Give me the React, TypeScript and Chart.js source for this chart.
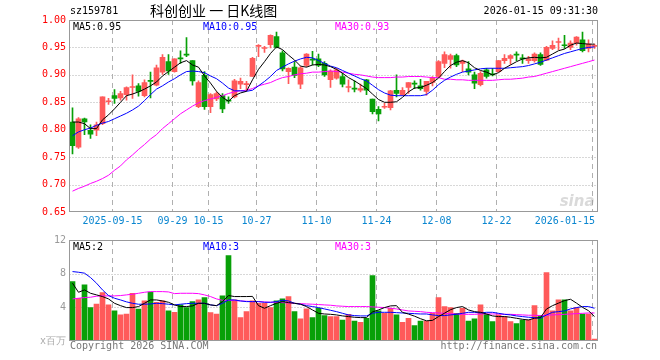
import React, { useEffect, useRef } from "react";
import { Chart, registerables } from "chart.js";
Chart.register(...registerables);

// ---------- DATA ----------
const dates: string[] = [
  "2025-09-04","2025-09-05","2025-09-08","2025-09-09","2025-09-10","2025-09-11","2025-09-12",
  "2025-09-15","2025-09-16","2025-09-17","2025-09-18","2025-09-19",
  "2025-09-22","2025-09-23","2025-09-24","2025-09-25","2025-09-26",
  "2025-09-29","2025-09-30",
  "2025-10-09","2025-10-10","2025-10-13","2025-10-14",
  "2025-10-15","2025-10-16","2025-10-17",
  "2025-10-20","2025-10-21","2025-10-22","2025-10-23","2025-10-24",
  "2025-10-27","2025-10-28","2025-10-29","2025-10-30","2025-10-31",
  "2025-11-03","2025-11-04","2025-11-05","2025-11-06","2025-11-07",
  "2025-11-10","2025-11-11","2025-11-12","2025-11-13","2025-11-14",
  "2025-11-17","2025-11-18","2025-11-19","2025-11-20","2025-11-21",
  "2025-11-24","2025-11-25","2025-11-26","2025-11-27","2025-11-28",
  "2025-12-01","2025-12-02","2025-12-03","2025-12-04","2025-12-05",
  "2025-12-08","2025-12-09","2025-12-10","2025-12-11","2025-12-12",
  "2025-12-15","2025-12-16","2025-12-17","2025-12-18","2025-12-19",
  "2025-12-22","2025-12-23","2025-12-24","2025-12-25","2025-12-26",
  "2025-12-29","2025-12-30","2025-12-31",
  "2026-01-05","2026-01-06","2026-01-07","2026-01-08","2026-01-09",
  "2026-01-12","2026-01-13","2026-01-14","2026-01-15",
];

const openP: number[] = [
  0.814,0.768,0.820,0.799,0.799,0.811,0.851,0.862,0.858,0.864,
  0.877,0.880,0.862,0.890,0.881,0.905,0.924,0.906,0.931,0.938,
  0.926,0.842,0.899,0.842,0.856,0.862,0.853,0.860,0.883,0.882,
  0.897,0.952,0.948,0.955,0.970,0.940,0.906,0.914,0.883,0.917,
  0.928,0.929,0.921,0.891,0.894,0.897,0.877,0.875,0.872,0.891,
  0.856,0.837,0.841,0.840,0.872,0.864,0.877,0.884,0.880,0.870,
  0.886,0.897,0.921,0.928,0.935,0.921,0.911,0.900,0.882,0.909,
  0.901,0.906,0.926,0.930,0.937,0.930,0.926,0.926,0.937,0.927,
  0.948,0.959,0.954,0.950,0.958,0.964,0.948,0.952,
];
const highP: number[] = [
  0.840,0.822,0.821,0.809,0.814,0.860,0.857,0.873,0.870,0.878,
  0.900,0.884,0.891,0.905,0.918,0.937,0.937,0.929,0.944,0.968,
  0.926,0.889,0.906,0.866,0.869,0.866,0.860,0.892,0.894,0.888,
  0.932,0.955,0.952,0.973,0.978,0.944,0.913,0.924,0.915,0.939,
  0.943,0.938,0.924,0.909,0.912,0.903,0.891,0.889,0.883,0.892,
  0.856,0.842,0.848,0.872,0.900,0.877,0.886,0.889,0.892,0.888,
  0.897,0.926,0.942,0.938,0.938,0.927,0.924,0.905,0.906,0.912,
  0.912,0.926,0.937,0.937,0.942,0.937,0.934,0.940,0.940,0.952,
  0.962,0.967,0.972,0.962,0.970,0.978,0.964,0.956,
];
const lowP: number[] = [
  0.756,0.766,0.791,0.784,0.789,0.809,0.846,0.848,0.854,0.854,
  0.857,0.861,0.860,0.858,0.880,0.901,0.901,0.905,0.921,0.933,
  0.881,0.840,0.837,0.831,0.853,0.831,0.848,0.858,0.875,0.872,
  0.897,0.933,0.941,0.949,0.949,0.907,0.884,0.895,0.875,0.915,
  0.918,0.915,0.897,0.877,0.892,0.878,0.869,0.869,0.869,0.864,
  0.829,0.816,0.839,0.836,0.860,0.862,0.866,0.875,0.872,0.863,
  0.880,0.895,0.913,0.912,0.915,0.906,0.900,0.875,0.880,0.894,
  0.898,0.905,0.921,0.919,0.926,0.921,0.921,0.923,0.917,0.926,
  0.946,0.946,0.948,0.946,0.954,0.942,0.942,0.948,
];
const closeP: number[] = [
  0.771,0.820,0.814,0.792,0.809,0.860,0.852,0.857,0.866,0.877,
  0.878,0.870,0.886,0.888,0.913,0.932,0.907,0.929,0.929,0.936,
  0.889,0.886,0.842,0.864,0.866,0.838,0.852,0.889,0.888,0.884,
  0.930,0.953,0.949,0.972,0.950,0.911,0.912,0.899,0.913,0.938,
  0.927,0.917,0.900,0.907,0.909,0.883,0.878,0.874,0.875,0.872,
  0.833,0.829,0.842,0.871,0.866,0.872,0.886,0.883,0.875,0.888,
  0.895,0.924,0.937,0.935,0.918,0.925,0.905,0.885,0.903,0.897,
  0.900,0.926,0.930,0.935,0.936,0.929,0.929,0.938,0.919,0.950,
  0.954,0.960,0.953,0.958,0.969,0.944,0.956,0.954,
];

const ma5: number[] = [
  0.814,0.814,0.811,0.802,0.802,0.818,0.827,0.838,0.850,0.862,
  0.865,0.869,0.874,0.880,0.887,0.898,0.906,0.914,0.922,0.926,
  0.918,0.914,0.898,0.885,0.870,0.859,0.852,0.862,0.867,0.870,
  0.891,0.910,0.924,0.939,0.951,0.946,0.936,0.927,0.916,0.914,
  0.918,0.919,0.918,0.915,0.910,0.903,0.895,0.889,0.882,0.875,
  0.865,0.855,0.850,0.850,0.851,0.859,0.869,0.876,0.877,0.881,
  0.886,0.894,0.906,0.917,0.923,0.926,0.922,0.913,0.908,0.905,
  0.900,0.904,0.912,0.918,0.924,0.929,0.931,0.932,0.931,0.932,
  0.938,0.944,0.947,0.954,0.958,0.957,0.956,0.956,
];
const ma10: number[] = [
  0.789,0.796,0.800,0.803,0.808,0.812,0.815,0.820,0.825,0.830,
  0.836,0.843,0.853,0.864,0.874,0.880,0.887,0.893,0.900,0.906,
  0.907,0.906,0.904,0.898,0.893,0.885,0.876,0.871,0.871,0.870,
  0.872,0.880,0.888,0.897,0.908,0.914,0.920,0.925,0.929,0.932,
  0.931,0.926,0.921,0.916,0.913,0.908,0.903,0.898,0.893,0.889,
  0.881,0.873,0.867,0.863,0.862,0.862,0.862,0.862,0.862,0.864,
  0.872,0.882,0.890,0.896,0.901,0.905,0.907,0.909,0.911,0.912,
  0.912,0.912,0.912,0.913,0.914,0.915,0.917,0.920,0.923,0.927,
  0.931,0.935,0.939,0.942,0.945,0.948,0.950,0.951,
];
const ma30: number[] = [
  0.688,0.693,0.697,0.702,0.706,0.711,0.717,0.726,0.734,0.745,
  0.754,0.764,0.773,0.783,0.791,0.802,0.811,0.820,0.829,0.836,
  0.843,0.849,0.853,0.856,0.859,0.862,0.866,0.869,0.871,0.872,
  0.875,0.880,0.883,0.886,0.891,0.895,0.897,0.900,0.902,0.903,
  0.905,0.905,0.906,0.907,0.906,0.905,0.903,0.901,0.900,0.898,
  0.896,0.895,0.895,0.895,0.896,0.896,0.897,0.897,0.897,0.896,
  0.895,0.895,0.892,0.892,0.891,0.891,0.890,0.890,0.890,0.890,
  0.890,0.891,0.892,0.892,0.893,0.894,0.896,0.897,0.900,0.903,
  0.906,0.909,0.912,0.915,0.918,0.921,0.924,0.927,
];

const volume: number[] = [
  7.06,5.08,6.67,3.97,4.40,5.75,4.29,3.57,3.10,3.20,
  5.67,3.80,4.76,5.80,4.60,4.76,3.57,3.41,4.29,3.97,
  4.68,4.88,5.16,3.37,3.20,5.36,10.16,4.88,2.78,3.49,
  4.76,4.48,4.48,3.97,4.76,5.00,5.28,3.49,2.62,3.81,
  2.78,3.89,3.02,2.90,2.90,2.50,3.17,2.38,2.22,2.70,
  7.78,3.57,3.29,3.89,3.10,2.22,2.70,1.83,2.38,2.38,
  3.29,5.16,4.09,3.97,3.29,3.89,2.38,2.62,4.29,3.17,
  2.30,3.10,2.90,2.30,2.06,2.50,2.50,4.20,3.02,8.13,
  3.57,4.88,4.88,3.57,3.97,3.20,3.20,0.24,
];
const volMa5: number[] = [
  6.87,5.79,6.07,5.67,5.48,5.28,5.00,4.48,4.20,3.97,
  3.97,4.09,4.48,4.88,4.88,4.76,4.60,4.29,4.09,4.09,
  4.17,4.48,4.48,4.29,4.20,4.68,5.40,5.28,5.28,5.28,
  5.30,4.20,3.89,4.20,4.48,4.68,4.56,4.48,4.37,4.09,
  3.69,3.29,3.21,3.17,3.10,2.98,2.90,2.82,2.78,2.78,
  3.45,3.69,3.97,4.17,4.20,3.40,3.20,2.95,2.65,2.40,
  2.45,2.90,3.30,3.72,3.97,4.09,3.69,3.49,3.41,3.21,
  2.98,2.90,2.90,2.82,2.70,2.58,2.50,2.70,2.78,3.80,
  4.20,4.50,4.80,4.96,4.50,4.00,3.60,2.90,
];
const volMa10: number[] = [
  8.25,8.17,8.06,7.54,6.87,6.07,5.40,5.08,4.88,4.65,
  4.48,4.37,4.37,4.40,4.48,4.44,4.37,4.29,4.37,4.44,
  4.48,4.48,4.48,4.29,4.20,4.48,4.88,4.88,4.76,4.68,
  4.68,4.68,4.60,4.60,4.68,4.84,4.76,4.48,4.37,4.20,
  4.09,3.97,3.81,3.65,3.49,3.29,3.10,3.02,2.98,2.98,
  3.29,3.41,3.41,3.41,3.37,3.33,3.29,3.25,3.21,3.21,
  3.10,3.02,3.02,3.10,3.17,3.29,3.41,3.41,3.33,3.41,
  3.41,3.29,3.17,3.10,2.98,2.90,2.82,2.78,2.70,3.10,
  3.41,3.49,3.57,3.81,3.97,4.09,4.09,3.89,
];
const volMa30: number[] = [
  5.00,5.08,5.16,5.20,5.32,5.36,5.36,5.36,5.40,5.48,
  5.56,5.67,5.79,5.87,5.87,5.87,5.83,5.63,5.67,5.67,
  5.67,5.63,5.48,5.28,5.00,4.84,4.84,4.80,4.76,4.72,
  4.68,4.68,4.64,4.60,4.60,4.56,4.52,4.48,4.44,4.40,
  4.37,4.33,4.29,4.25,4.17,4.13,4.09,4.09,4.09,4.09,
  4.05,4.01,3.97,3.89,3.81,3.69,3.57,3.53,3.49,3.41,
  3.37,3.33,3.29,3.25,3.21,3.17,3.17,3.17,3.21,3.21,
  3.21,3.21,3.17,3.17,3.13,3.10,3.06,3.06,3.02,3.06,
  3.10,3.13,3.17,3.21,3.25,3.29,3.33,3.33,
];

const priceTicks: number[] = [1.0, 0.95, 0.9, 0.85, 0.8, 0.75, 0.7, 0.65];
const volTicks: number[] = [12, 8, 4];
const volUnitLabel = "x百万";
const xTickDates: string[] = [
  "2025-09-15","2025-09-29","2025-10-15","2025-10-27","2025-11-10",
  "2025-11-24","2025-12-08","2025-12-22","2026-01-15",
];
const xTickLabels: string[] = [
  "2025-09-15","09-29","10-15","10-27","11-10","11-24","12-08","12-22","2026-01-15",
];
const symbolText = "sz159781";
const titleText = "科创创业 一 日K线图";
const timeText = "2026-01-15 09:31:30";
const priceLegend: string[] = ["MA5:0.95", "MA10:0.95", "MA30:0.93"];
const volLegend: string[] = ["MA5:2", "MA10:3", "MA30:3"];
const copyrightText = "Copyright 2026 SINA.COM";
const urlText = "http://finance.sina.com.cn";

// ---------- STYLE ----------
const UP = "#ff5a5a";
const DOWN = "#08a008";
const MA_COLORS = ["#000000", "#0000ff", "#ff00ff"];
const MONO = "10px 'DejaVu Sans Mono', monospace";
const GRID = "#b0b0b0";
const FRAME = "#999999";
const LEGEND_X = [73, 203, 335];

const candleColors = closeP.map((c, i) => (c >= openP[i] ? UP : DOWN));

function drawGrid(chart: any, hValues: number[]) {
  const { ctx, chartArea: a, scales } = chart;
  const x = scales.x;
  const y = scales.y;
  ctx.save();
  ctx.strokeStyle = GRID;
  ctx.lineWidth = 1;
  ctx.setLineDash([1, 2]);
  for (const v of hValues) {
    const py = Math.round(y.getPixelForValue(v)) + 0.5;
    if (py <= a.top + 2 || py >= a.bottom - 2) continue;
    ctx.beginPath();
    ctx.moveTo(a.left, py);
    ctx.lineTo(a.right, py);
    ctx.stroke();
  }
  ctx.setLineDash([5, 4]);
  for (const d of xTickDates) {
    const i = dates.indexOf(d);
    const px = Math.round(x.getPixelForValue(i) - 2.5) + 0.5;
    ctx.beginPath();
    ctx.moveTo(px, a.top);
    ctx.lineTo(px, a.bottom);
    ctx.stroke();
  }
  ctx.restore();
}

function drawFrame(chart: any) {
  const { ctx, chartArea: a } = chart;
  ctx.save();
  ctx.strokeStyle = FRAME;
  ctx.lineWidth = 1;
  ctx.setLineDash([]);
  ctx.strokeRect(a.left, a.top + 0.5, a.right - a.left, a.bottom - a.top - 1);
  ctx.restore();
}

function drawLegend(ctx: CanvasRenderingContext2D, labels: string[], y: number) {
  ctx.font = MONO;
  ctx.textAlign = "left";
  ctx.textBaseline = "middle";
  labels.forEach((t, k) => {
    ctx.fillStyle = MA_COLORS[k];
    ctx.fillText(t, LEGEND_X[k], y);
  });
}

const mainPlugin = {
  id: "mainDecor",
  beforeDatasetsDraw(chart: any) {
    drawGrid(chart, priceTicks);
  },
  afterDraw(chart: any) {
    const { ctx, chartArea: a, scales } = chart;
    drawFrame(chart);
    ctx.save();
    ctx.font = MONO;
    ctx.fillStyle = "#ff0000";
    ctx.textAlign = "right";
    ctx.textBaseline = "middle";
    for (const v of priceTicks) {
      ctx.fillText(v.toFixed(2), 66, scales.y.getPixelForValue(v));
    }
    ctx.fillStyle = "#0a86d0";
    xTickDates.forEach((d, k) => {
      const i = dates.indexOf(d);
      const px = scales.x.getPixelForValue(i) - 2.5;
      if (k === xTickDates.length - 1) {
        ctx.textAlign = "right";
        ctx.fillText(xTickLabels[k], Math.min(px + 3, a.right - 2), a.bottom + 9);
      } else {
        ctx.textAlign = "center";
        ctx.fillText(xTickLabels[k], px + 0.5, a.bottom + 9);
      }
    });
    ctx.fillStyle = "#000";
    ctx.textAlign = "left";
    ctx.fillText(symbolText, 70, 11);
    ctx.textAlign = "right";
    ctx.fillText(timeText, 598, 11);
    ctx.textAlign = "left";
    ctx.font = "14px 'Noto Sans CJK SC', sans-serif";
    ctx.fillText(titleText, 150, 11);
    drawLegend(ctx, priceLegend, a.top + 7);
    ctx.font = "italic bold 15px 'DejaVu Sans', sans-serif";
    ctx.fillStyle = "rgba(150,150,150,0.35)";
    ctx.textAlign = "right";
    ctx.fillText("sina", a.right - 3, a.bottom - 10);
    ctx.restore();
  },
};

const volPlugin = {
  id: "volDecor",
  beforeDatasetsDraw(chart: any) {
    drawGrid(chart, volTicks);
  },
  afterDraw(chart: any) {
    const { ctx, chartArea: a, scales } = chart;
    drawFrame(chart);
    ctx.save();
    ctx.font = MONO;
    ctx.fillStyle = "#999";
    ctx.textAlign = "right";
    ctx.textBaseline = "middle";
    for (const v of volTicks) {
      ctx.fillText(String(v), 66, scales.y.getPixelForValue(v));
    }
    ctx.fillStyle = "#aaa";
    ctx.fillText(volUnitLabel, 66, a.bottom);
    drawLegend(ctx, volLegend, a.top + 7);
    ctx.fillStyle = "#777";
    ctx.textAlign = "left";
    ctx.fillText(copyrightText, 70, a.bottom + 5);
    ctx.textAlign = "right";
    ctx.fillText(urlText, 597, a.bottom + 5);
    ctx.restore();
  },
};

function lineDs(data: number[], color: string) {
  return {
    type: "line" as const,
    data,
    borderColor: color,
    borderWidth: 1,
    pointRadius: 0,
    tension: 0,
    fill: false,
    order: 0,
  };
}

export default function App() {
  const mainRef = useRef<HTMLCanvasElement>(null);
  const volRef = useRef<HTMLCanvasElement>(null);

  useEffect(() => {
    const common = {
      responsive: false,
      animation: false as const,
      devicePixelRatio: 1,
      plugins: { legend: { display: false }, tooltip: { enabled: false } },
    };
    const main = new Chart(mainRef.current as HTMLCanvasElement, {
      type: "bar",
      data: {
        labels: dates,
        datasets: [
          {
            type: "bar",
            data: lowP.map((l, i) => [l, highP[i]]),
            backgroundColor: candleColors,
            barThickness: 1,
            grouped: false,
            order: 2,
          } as any,
          {
            type: "bar",
            data: openP.map((o, i) => [o, closeP[i]]),
            backgroundColor: candleColors,
            barThickness: 5,
            minBarLength: 1,
            grouped: false,
            order: 1,
          } as any,
          lineDs(ma5, MA_COLORS[0]),
          lineDs(ma10, MA_COLORS[1]),
          lineDs(ma30, MA_COLORS[2]),
        ],
      },
      options: {
        ...common,
        layout: { padding: { left: 69.5, right: 62.5, top: 20, bottom: 20 } },
        scales: {
          x: { type: "category", offset: true, display: false },
          y: { type: "linear", min: 0.65, max: 1.0, display: false },
        },
      } as any,
      plugins: [mainPlugin],
    });
    const vol = new Chart(volRef.current as HTMLCanvasElement, {
      type: "bar",
      data: {
        labels: dates,
        datasets: [
          {
            type: "bar",
            data: volume,
            backgroundColor: candleColors,
            barThickness: 5,
            grouped: false,
            order: 1,
          } as any,
          lineDs(volMa5, MA_COLORS[0]),
          lineDs(volMa10, MA_COLORS[1]),
          lineDs(volMa30, MA_COLORS[2]),
        ],
      },
      options: {
        ...common,
        layout: { padding: { left: 69.5, right: 62.5, top: 8, bottom: 19 } },
        scales: {
          x: { type: "category", offset: true, display: false },
          y: { type: "linear", min: 0, max: 12, display: false },
        },
      } as any,
      plugins: [volPlugin],
    });
    return () => {
      main.destroy();
      vol.destroy();
    };
  }, []);

  return (
    <div style={{ position: "absolute", left: 0, top: 0, width: 660, height: 360, background: "#fff" }}>
      <canvas ref={mainRef} width={660} height={232} style={{ position: "absolute", left: 0, top: 0 }} />
      <canvas ref={volRef} width={660} height={128} style={{ position: "absolute", left: 0, top: 232 }} />
    </div>
  );
}
